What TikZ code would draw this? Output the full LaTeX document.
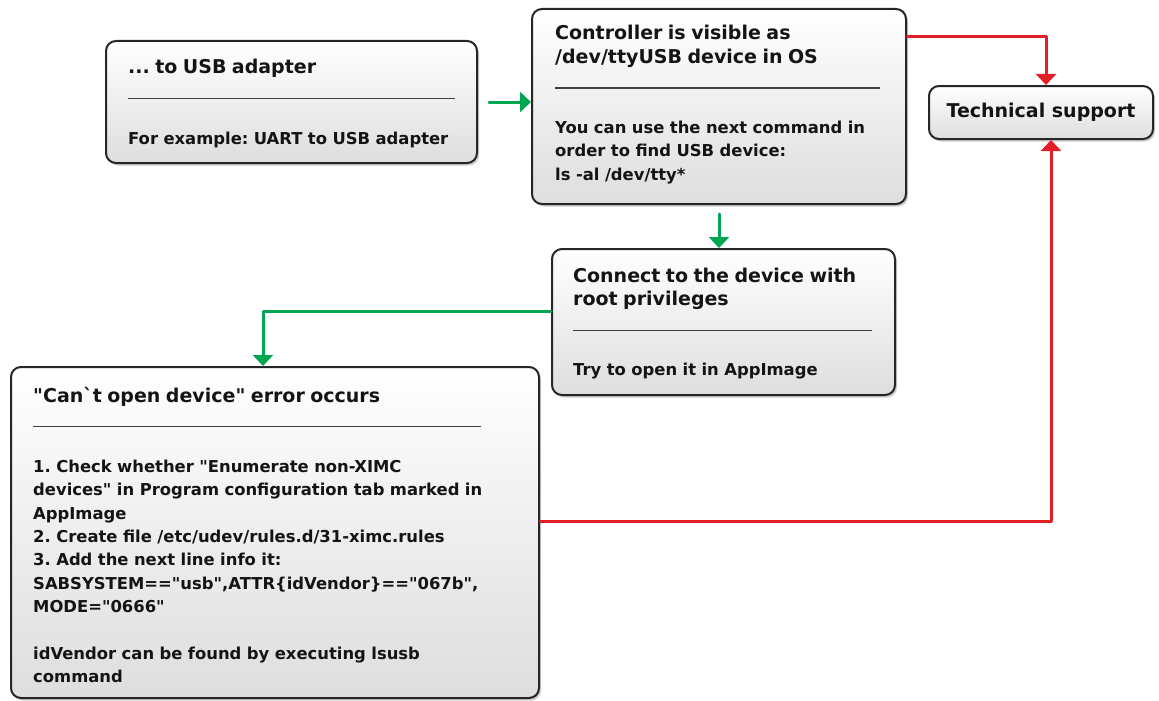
\documentclass[tikz,border=0pt]{standalone}
\usepackage{fontspec}
\newfontfamily\boxfont{DejaVu Sans}
\usepackage{xcolor}
\usepackage{tikz}
\usetikzlibrary{arrows.meta,calc,positioning,shadows}
\definecolor{flowgreen}{RGB}{0,166,81}
\definecolor{flowred}{RGB}{228,30,38}
\newcommand{\sepline}[1]{\textcolor{black!75}{\rule[-2pt]{#1pt}{1.3pt}}}
\newcommand{\ttl}{\fontsize{19}{23.4}\selectfont}
\tikzset{
  card/.style={rounded corners=10pt, draw=black!85, line width=2pt, top color=white, middle color=white,
    bottom color=black!13, drop shadow={shadow xshift=2pt, shadow yshift=-2.5pt, opacity=.4},
    anchor=north west, inner sep=0pt},
  cardtxt/.style={anchor=base west, inner sep=0pt, text width=500pt, align=left, text=black!92,
    font=\boxfont\bfseries\frenchspacing\fontsize{16.4}{23.4}\selectfont},
  garrow/.style={draw=flowgreen, line width=3pt, -{Triangle[width=20pt,length=11pt]}},
  rarrow/.style={draw=flowred, line width=3pt, -{Triangle[width=20pt,length=11pt]}},
  every picture/.style={line cap=round, line join=round}
}

\begin{document}
\begin{tikzpicture}[x=1pt, y=-1pt]
    \useasboundingbox (0,0) rectangle (1159,701);

    \node[card, minimum width=371, minimum height=122] (adapter) at (105,40) {};
    \node[card, minimum width=374, minimum height=195] (visible) at (531,8) {};
    \node[card, minimum width=224, minimum height=53, text=black!92,
      font=\boxfont\bfseries\ttl] (support) at (928,85) {Technical support};
    \node[card, minimum width=343, minimum height=146] (connect) at (551,248) {};
    \node[card, minimum width=528, minimum height=331] (error) at (10,366) {};

    \node[cardtxt] (adaptertxt) at (128,74) {{\ttl ... to USB adapter}\\
      \sepline{327}\\[23.4pt]
      For example: UART to USB adapter};
    \node[cardtxt] (visibletxt) at (555,40) {{\ttl Controller is visible as\\
      /dev/ttyUSB device in OS}\\
      \sepline{325}\\[23.4pt]
      You can use the next command in\\
      order to find USB device:\\
      ls -al /dev/tty*};
    \node[cardtxt] (connecttxt) at (573,282) {{\ttl Connect to the device with\\
      root privileges}\\
      \sepline{299}\\[23.4pt]
      Try to open it in AppImage};
    \node[cardtxt] (errortxt) at (33,402) {{\ttl "Can`t open device" error occurs}\\
      \sepline{448}\\[23.4pt]
      1. Check whether "Enumerate non-XIMC\\
      devices" in Program configuration tab marked in\\
      AppImage\\
      2. Create file /etc/udev/rules.d/31-ximc.rules\\
      3. Add the next line info it:\\
      SABSYSTEM=="usb",ATTR\{idVendor\}=="067b",\\
      MODE="0666"\\[23.4pt]
      idVendor can be found by executing lsusb\\
      command};

    \draw[garrow, shorten <=11pt] (adapter.east) -- (adapter.east -| visible.west);
    \draw[garrow, shorten <=9pt] (visible.south) -- (visible.south |- connect.north);
    \draw[garrow] ([yshift=11pt]connect.west) -| ([xshift=-12pt]error.north);
    \draw[rarrow] ([yshift=-29pt]visible.north east) -| ([xshift=5pt]support.north);
    \draw[rarrow] ([yshift=11.5pt]error.east) -| ([xshift=10pt]support.south);
  \end{tikzpicture}
\end{document}
